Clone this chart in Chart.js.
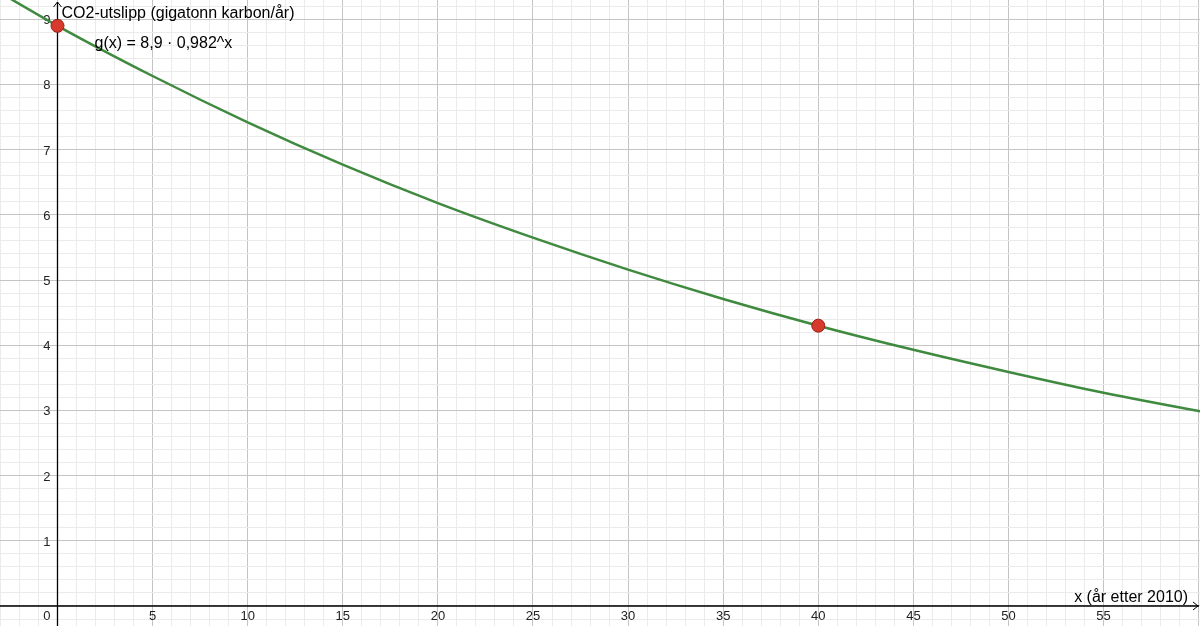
<!DOCTYPE html>
<html>
<head>
<meta charset="utf-8">
<script src="https://cdn.jsdelivr.net/npm/chart.js@4.4.1/dist/chart.umd.min.js"></script>
<style>
  html, body { margin: 0; padding: 0; background: #fff; }
  #wrap { width: 1200px; height: 626px; }
</style>
</head>
<body>
<div id="wrap"><canvas id="graph" width="1200" height="626"></canvas></div>
<script>
// curve, every 5 years
const years = [-5, 0, 5, 10, 15, 20, 25, 30, 35, 40, 45, 50, 55, 60, 65];
const emissions = [9.75, 8.9, 8.13, 7.42, 6.77, 6.18, 5.65, 5.16, 4.71, 4.30, 3.93, 3.59, 3.27, 2.99, 2.73];

// the two marked points
const markX = [0, 40];
const markY = [8.9, 4.3];

// tick labels
const xTickLabels = [5, 10, 15, 20, 25, 30, 35, 40, 45, 50, 55];
const yTickLabels = [1, 2, 3, 4, 5, 6, 7, 8, 9];

const yTitle = 'CO2-utslipp (gigatonn karbon/år)';
const xTitle = 'x (år etter 2010)';
const funcLabel = 'g(x) = 8,9 · 0,982^x';

const XMIN = -3.023, XMAX = 60.07;
const YMIN = -0.307, YMAX = 9.296;

const FONT = '"Liberation Sans", Arial, Helvetica, sans-serif';

function isWhole(v, step) {
    const r = v / step;
    return Math.abs(r - Math.round(r)) < 1e-6;
}

// axes, arrows and all the text are drawn on top of the grid
const axesPlugin = {
    id: 'axesPlugin',
    beforeDatasetsDraw(chart) {
        const ctx = chart.ctx;
        const xs = chart.scales.x, ys = chart.scales.y;
        const x0 = xs.getPixelForValue(0);
        const y0 = ys.getPixelForValue(0);
        const area = chart.chartArea;

        ctx.save();
        ctx.strokeStyle = '#000';
        ctx.lineWidth = 1.3;
        ctx.beginPath();
        ctx.moveTo(area.left, y0);
        ctx.lineTo(area.right - 1, y0);
        ctx.moveTo(x0, area.bottom);
        ctx.lineTo(x0, area.top + 2);
        ctx.stroke();

        // open arrow heads
        ctx.lineWidth = 1;
        ctx.beginPath();
        ctx.moveTo(x0 - 4, area.top + 7);
        ctx.lineTo(x0, area.top + 2);
        ctx.lineTo(x0 + 4, area.top + 7);
        ctx.moveTo(area.right - 7, y0 - 4);
        ctx.lineTo(area.right - 2, y0);
        ctx.lineTo(area.right - 7, y0 + 4);
        ctx.stroke();

        // tick labels
        ctx.fillStyle = '#222';
        ctx.font = '13px ' + FONT;
        ctx.textAlign = 'center';
        ctx.textBaseline = 'alphabetic';
        xTickLabels.forEach(v => {
            ctx.fillText(String(v), xs.getPixelForValue(v), y0 + 14);
        });
        ctx.textAlign = 'right';
        yTickLabels.forEach(v => {
            ctx.fillText(String(v), x0 - 7, ys.getPixelForValue(v) + 5);
        });
        ctx.fillText('0', x0 - 7, y0 + 14);
        ctx.restore();
    },
    afterDatasetsDraw(chart) {
        const ctx = chart.ctx;
        const xs = chart.scales.x, ys = chart.scales.y;
        const x0 = xs.getPixelForValue(0);
        const y0 = ys.getPixelForValue(0);
        const area = chart.chartArea;

        ctx.save();
        ctx.fillStyle = '#000';
        ctx.font = '16px ' + FONT;
        ctx.textBaseline = 'alphabetic';
        ctx.textAlign = 'left';
        ctx.fillText(yTitle, x0 + 4, area.top + 18);
        ctx.fillText(funcLabel, x0 + 37, area.top + 48);
        ctx.textAlign = 'right';
        ctx.fillText(xTitle, area.right - 12, y0 - 4);
        ctx.restore();
    }
};

const ctx = document.getElementById('graph').getContext('2d');
new Chart(ctx, {
    type: 'scatter',
    data: {
        datasets: [
            {
                label: 'g',
                data: years.map((x, i) => ({ x: x, y: emissions[i] })),
                showLine: true,
                borderColor: '#3f8a3f',
                borderWidth: 2.5,
                pointRadius: 0,
                cubicInterpolationMode: 'monotone',
                order: 2
            },
            {
                label: 'punkter',
                data: markX.map((x, i) => ({ x: x, y: markY[i] })),
                showLine: false,
                pointRadius: 6.5,
                backgroundColor: '#d63a2c',
                borderColor: '#9a1f16',
                borderWidth: 1,
                order: 1
            }
        ]
    },
    options: {
        responsive: false,
        animation: false,
        events: [],
        layout: { padding: 0, autoPadding: false },
        plugins: {
            legend: { display: false },
            tooltip: { enabled: false }
        },
        scales: {
            x: {
                type: 'linear',
                min: XMIN,
                max: XMAX,
                border: { display: false },
                ticks: { display: false, stepSize: 1, includeBounds: false, autoSkip: false },
                grid: {
                    drawTicks: false,
                    lineWidth: 1,
                    color: c => isWhole(c.tick.value, 5) ? '#c4c4c4' : '#ebebeb'
                }
            },
            y: {
                type: 'linear',
                min: YMIN,
                max: YMAX,
                border: { display: false },
                ticks: { display: false, stepSize: 0.2, includeBounds: false, autoSkip: false },
                grid: {
                    drawTicks: false,
                    lineWidth: 1,
                    color: c => isWhole(c.tick.value, 1) ? '#c4c4c4' : '#ebebeb'
                }
            }
        }
    },
    plugins: [axesPlugin]
});
</script>
</body>
</html>
